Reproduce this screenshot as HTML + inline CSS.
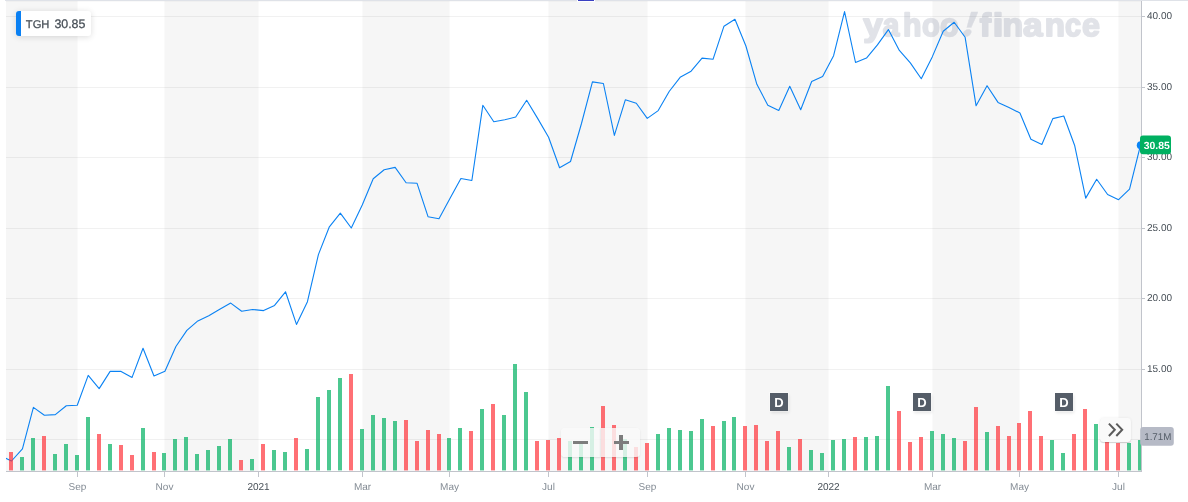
<!DOCTYPE html>
<html lang="en"><head><meta charset="utf-8"><title>TGH chart</title>
<style>
html,body{margin:0;padding:0;background:#fff;}
body{width:1188px;height:502px;position:relative;overflow:hidden;text-rendering:geometricPrecision;font-family:"Liberation Sans",Arial,Helvetica,sans-serif;}
#chart{position:absolute;left:0;top:0;display:block;will-change:transform;}
#ov{position:absolute;left:0;top:0;width:1188px;height:502px;will-change:transform;}
#chart text{font-family:"Liberation Sans",Arial,Helvetica,sans-serif;text-rendering:geometricPrecision;}
.yl{font-size:10px;fill:#464e56;}
.xl{font-size:10px;fill:#828a93;}
.xd{font-size:10px;fill:#464e56;}
.legend{position:absolute;left:16px;top:11px;width:75px;height:25px;box-sizing:border-box;background:#fff;border-left:5px solid #0a80f3;border-radius:3px;box-shadow:0 1px 6px rgba(0,0,0,.14);color:#464e56;white-space:nowrap;}
.legend .s{position:absolute;left:4.8px;top:6.7px;font-size:11.2px;line-height:14px;-webkit-text-stroke:0.25px #464e56;}
.legend .p{position:absolute;left:33.4px;top:6px;font-size:12.4px;line-height:15px;-webkit-text-stroke:0.25px #464e56;}
.dm{position:absolute;top:393px;width:18px;height:18px;background:#555d68;color:#fff;font-weight:bold;font-size:13px;line-height:19.4px;text-align:center;box-shadow:0 0 0 1px rgba(255,255,255,.3),1px 2px 3px rgba(0,0,0,.10);}
.zb{position:absolute;top:428px;height:29px;width:39.5px;background:rgba(250,250,250,.8);box-shadow:0 1px 2px rgba(0,0,0,.10);}
.zb i{position:absolute;background:#7d7d7d;}
.home{position:absolute;left:1100.3px;top:417.5px;width:30.8px;height:24.5px;border-radius:3.5px;background:#fafafa;box-shadow:0 1px 1px rgba(0,0,0,.16),0 0 3px rgba(0,0,0,.07);}
</style></head><body>
<svg id="chart" width="1188" height="502" viewBox="0 0 1188 502">
<defs><clipPath id="plot"><rect x="6" y="0" width="1135" height="471"/></clipPath></defs>
<rect width="1188" height="502" fill="#fff"/>
<rect x="6.00" y="1" width="71.50" height="470" fill="#f6f6f6"/>
<rect x="164.50" y="1" width="94.00" height="470" fill="#f6f6f6"/>
<rect x="362.50" y="1" width="87.00" height="470" fill="#f6f6f6"/>
<rect x="548.50" y="1" width="99.00" height="470" fill="#f6f6f6"/>
<rect x="745.50" y="1" width="83.00" height="470" fill="#f6f6f6"/>
<rect x="932.50" y="1" width="87.00" height="470" fill="#f6f6f6"/>
<rect x="1118.50" y="1" width="22.50" height="470" fill="#f6f6f6"/>
<rect x="5" y="0" width="1183" height="1" fill="#dfe2e8"/>
<rect x="6" y="1" width="1135" height="1" fill="#000" opacity="0.025"/>
<rect x="577" y="0" width="18" height="2" fill="#fff"/><rect x="578" y="0" width="16" height="1" fill="#3a40c2"/>
<rect x="6" y="16" width="1135" height="1" fill="#000" opacity="0.055"/>
<rect x="6" y="87" width="1135" height="1" fill="#000" opacity="0.055"/>
<rect x="6" y="157" width="1135" height="1" fill="#000" opacity="0.055"/>
<rect x="6" y="228" width="1135" height="1" fill="#000" opacity="0.055"/>
<rect x="6" y="298" width="1135" height="1" fill="#000" opacity="0.055"/>
<rect x="6" y="369" width="1135" height="1" fill="#000" opacity="0.055"/>
<rect x="6" y="439" width="1135" height="1" fill="#000" opacity="0.055"/>
<g font-family="'Liberation Sans',Arial,sans-serif" font-weight="bold" font-size="32.2" fill="#5a6482" stroke="#5a6482" stroke-width="1.9" stroke-linejoin="round" opacity="0.175"><text y="36.3"><tspan x="863.15" textLength="19.37" lengthAdjust="spacingAndGlyphs">y</tspan><tspan x="882.85" textLength="16.58" lengthAdjust="spacingAndGlyphs">a</tspan><tspan x="903.04" textLength="18.45" lengthAdjust="spacingAndGlyphs">h</tspan><tspan x="922.07" textLength="17.88" lengthAdjust="spacingAndGlyphs">o</tspan><tspan x="940.03" textLength="18.66" lengthAdjust="spacingAndGlyphs">o</tspan></text><text transform="translate(958.5,35.7) skewX(-19.6) scale(1.2,1)" style="font-family:'Noto Sans CJK SC','Liberation Sans',sans-serif;font-weight:900;font-size:31.4px" stroke-width="0.3">!</text><text y="36.3"><tspan x="979.81" textLength="11.20" lengthAdjust="spacingAndGlyphs">f</tspan><tspan x="992.67" textLength="10.56" lengthAdjust="spacingAndGlyphs">i</tspan><tspan x="1002.42" textLength="20.69" lengthAdjust="spacingAndGlyphs">n</tspan><tspan x="1023.05" textLength="19.52" lengthAdjust="spacingAndGlyphs">a</tspan><tspan x="1044.77" textLength="20.20" lengthAdjust="spacingAndGlyphs">n</tspan><tspan x="1065.09" textLength="16.02" lengthAdjust="spacingAndGlyphs">c</tspan><tspan x="1081.98" textLength="17.91" lengthAdjust="spacingAndGlyphs">e</tspan></text></g>
<g clip-path="url(#plot)"><polyline points="0.52,455.6 11.48,461.0 22.44,448.8 33.40,407.4 44.36,415.2 55.33,414.6 66.29,405.7 77.25,405.3 88.21,375.4 99.17,388.6 110.13,371.4 121.09,371.4 132.06,377.4 143.02,348.3 153.98,376.0 164.94,371.2 175.90,346.5 186.86,330.4 197.83,320.9 208.79,315.8 219.75,309.3 230.71,303.1 241.67,311.2 252.63,309.5 263.59,310.6 274.56,305.4 285.52,291.8 296.48,324.4 307.44,301.7 318.40,254.6 329.36,226.8 340.32,213.2 351.29,228.0 362.25,205.0 373.21,178.7 384.17,169.8 395.13,167.4 406.09,182.7 417.06,183.3 428.02,216.7 438.98,218.7 449.94,198.5 460.90,178.5 471.86,180.5 482.82,105.3 493.79,121.7 504.75,119.8 515.71,117.0 526.67,100.3 537.63,118.4 548.59,137.2 559.55,167.7 570.52,161.5 581.48,123.5 592.44,81.9 603.40,83.5 614.36,135.4 625.32,99.8 636.29,103.3 647.25,118.4 658.21,110.6 669.17,91.5 680.13,77.3 691.09,71.2 702.05,58.1 713.02,59.3 723.98,26.2 734.94,19.3 745.90,46.0 756.86,84.3 767.82,105.2 778.78,110.4 789.75,86.2 800.71,109.8 811.67,81.5 822.63,76.5 833.59,55.7 844.55,11.6 855.52,62.5 866.48,58.1 877.44,44.9 888.40,29.6 899.36,50.4 910.32,62.9 921.28,78.7 932.25,56.9 943.21,31.2 954.17,22.3 965.13,37.3 976.09,105.8 987.05,85.7 998.01,102.4 1008.98,107.4 1019.94,113.0 1030.90,139.3 1041.86,144.5 1052.82,118.6 1063.78,116.0 1074.75,145.8 1085.71,198.1 1096.67,179.3 1107.63,194.5 1118.59,199.7 1129.55,189.2 1140.51,145.2" fill="none" stroke="#0a82f3" stroke-width="1.1" stroke-linejoin="round"/></g>
<g clip-path="url(#plot)">
<rect x="9" y="452" width="4" height="18.4" fill="rgba(255,51,58,0.7)"/>
<rect x="20" y="457" width="4" height="13.4" fill="rgba(0,176,97,0.7)"/>
<rect x="31" y="438" width="4" height="32.4" fill="rgba(0,176,97,0.7)"/>
<rect x="42" y="436" width="4" height="34.4" fill="rgba(255,51,58,0.7)"/>
<rect x="53" y="454" width="4" height="16.4" fill="rgba(0,176,97,0.7)"/>
<rect x="64" y="444" width="4" height="26.4" fill="rgba(0,176,97,0.7)"/>
<rect x="75" y="455" width="4" height="15.4" fill="rgba(0,176,97,0.7)"/>
<rect x="86" y="417" width="4" height="53.4" fill="rgba(0,176,97,0.7)"/>
<rect x="97" y="434" width="4" height="36.4" fill="rgba(255,51,58,0.7)"/>
<rect x="108" y="444" width="4" height="26.4" fill="rgba(0,176,97,0.7)"/>
<rect x="119" y="445" width="4" height="25.4" fill="rgba(255,51,58,0.7)"/>
<rect x="130" y="455" width="4" height="15.4" fill="rgba(255,51,58,0.7)"/>
<rect x="141" y="428" width="4" height="42.4" fill="rgba(0,176,97,0.7)"/>
<rect x="152" y="452" width="4" height="18.4" fill="rgba(255,51,58,0.7)"/>
<rect x="162" y="453" width="4" height="17.4" fill="rgba(0,176,97,0.7)"/>
<rect x="173" y="439" width="4" height="31.4" fill="rgba(0,176,97,0.7)"/>
<rect x="184" y="437" width="4" height="33.4" fill="rgba(0,176,97,0.7)"/>
<rect x="195" y="454" width="4" height="16.4" fill="rgba(0,176,97,0.7)"/>
<rect x="206" y="450" width="4" height="20.4" fill="rgba(0,176,97,0.7)"/>
<rect x="217" y="446" width="4" height="24.4" fill="rgba(0,176,97,0.7)"/>
<rect x="228" y="439" width="4" height="31.4" fill="rgba(0,176,97,0.7)"/>
<rect x="239" y="460" width="4" height="10.4" fill="rgba(255,51,58,0.7)"/>
<rect x="250" y="459" width="4" height="11.4" fill="rgba(0,176,97,0.7)"/>
<rect x="261" y="444" width="4" height="26.4" fill="rgba(255,51,58,0.7)"/>
<rect x="272" y="450" width="4" height="20.4" fill="rgba(0,176,97,0.7)"/>
<rect x="283" y="452" width="4" height="18.4" fill="rgba(0,176,97,0.7)"/>
<rect x="294" y="438" width="4" height="32.4" fill="rgba(255,51,58,0.7)"/>
<rect x="305" y="449" width="4" height="21.4" fill="rgba(0,176,97,0.7)"/>
<rect x="316" y="397" width="4" height="73.4" fill="rgba(0,176,97,0.7)"/>
<rect x="327" y="390" width="4" height="80.4" fill="rgba(0,176,97,0.7)"/>
<rect x="338" y="378" width="4" height="92.4" fill="rgba(0,176,97,0.7)"/>
<rect x="349" y="374" width="4" height="96.4" fill="rgba(255,51,58,0.7)"/>
<rect x="360" y="429" width="4" height="41.4" fill="rgba(0,176,97,0.7)"/>
<rect x="371" y="415" width="4" height="55.4" fill="rgba(0,176,97,0.7)"/>
<rect x="382" y="418" width="4" height="52.4" fill="rgba(0,176,97,0.7)"/>
<rect x="393" y="421" width="4" height="49.4" fill="rgba(0,176,97,0.7)"/>
<rect x="404" y="420" width="4" height="50.4" fill="rgba(255,51,58,0.7)"/>
<rect x="415" y="441" width="4" height="29.4" fill="rgba(255,51,58,0.7)"/>
<rect x="426" y="430" width="4" height="40.4" fill="rgba(255,51,58,0.7)"/>
<rect x="437" y="434" width="4" height="36.4" fill="rgba(255,51,58,0.7)"/>
<rect x="447" y="438" width="4" height="32.4" fill="rgba(0,176,97,0.7)"/>
<rect x="458" y="428" width="4" height="42.4" fill="rgba(0,176,97,0.7)"/>
<rect x="469" y="431" width="4" height="39.4" fill="rgba(255,51,58,0.7)"/>
<rect x="480" y="409" width="4" height="61.4" fill="rgba(0,176,97,0.7)"/>
<rect x="491" y="404" width="4" height="66.4" fill="rgba(255,51,58,0.7)"/>
<rect x="502" y="415" width="4" height="55.4" fill="rgba(0,176,97,0.7)"/>
<rect x="513" y="364" width="4" height="106.4" fill="rgba(0,176,97,0.7)"/>
<rect x="524" y="392" width="4" height="78.4" fill="rgba(0,176,97,0.7)"/>
<rect x="535" y="441" width="4" height="29.4" fill="rgba(255,51,58,0.7)"/>
<rect x="546" y="440" width="4" height="30.4" fill="rgba(255,51,58,0.7)"/>
<rect x="557" y="438" width="4" height="32.4" fill="rgba(255,51,58,0.7)"/>
<rect x="568" y="441" width="4" height="29.4" fill="rgba(0,176,97,0.7)"/>
<rect x="579" y="444" width="4" height="26.4" fill="rgba(0,176,97,0.7)"/>
<rect x="590" y="427" width="4" height="43.4" fill="rgba(0,176,97,0.7)"/>
<rect x="601" y="406" width="4" height="64.4" fill="rgba(255,51,58,0.7)"/>
<rect x="612" y="425" width="4" height="45.4" fill="rgba(255,51,58,0.7)"/>
<rect x="623" y="439" width="4" height="31.4" fill="rgba(0,176,97,0.7)"/>
<rect x="634" y="447" width="4" height="23.4" fill="rgba(255,51,58,0.7)"/>
<rect x="645" y="443" width="4" height="27.4" fill="rgba(255,51,58,0.7)"/>
<rect x="656" y="434" width="4" height="36.4" fill="rgba(0,176,97,0.7)"/>
<rect x="667" y="428" width="4" height="42.4" fill="rgba(0,176,97,0.7)"/>
<rect x="678" y="430" width="4" height="40.4" fill="rgba(0,176,97,0.7)"/>
<rect x="689" y="431" width="4" height="39.4" fill="rgba(0,176,97,0.7)"/>
<rect x="700" y="419" width="4" height="51.4" fill="rgba(0,176,97,0.7)"/>
<rect x="711" y="426" width="4" height="44.4" fill="rgba(255,51,58,0.7)"/>
<rect x="722" y="421" width="4" height="49.4" fill="rgba(0,176,97,0.7)"/>
<rect x="732" y="417" width="4" height="53.4" fill="rgba(0,176,97,0.7)"/>
<rect x="743" y="426" width="4" height="44.4" fill="rgba(255,51,58,0.7)"/>
<rect x="754" y="425" width="4" height="45.4" fill="rgba(255,51,58,0.7)"/>
<rect x="765" y="441" width="4" height="29.4" fill="rgba(255,51,58,0.7)"/>
<rect x="776" y="431" width="4" height="39.4" fill="rgba(255,51,58,0.7)"/>
<rect x="787" y="447" width="4" height="23.4" fill="rgba(0,176,97,0.7)"/>
<rect x="798" y="439" width="4" height="31.4" fill="rgba(255,51,58,0.7)"/>
<rect x="809" y="450" width="4" height="20.4" fill="rgba(0,176,97,0.7)"/>
<rect x="820" y="453" width="4" height="17.4" fill="rgba(0,176,97,0.7)"/>
<rect x="831" y="440" width="4" height="30.4" fill="rgba(0,176,97,0.7)"/>
<rect x="842" y="439" width="4" height="31.4" fill="rgba(0,176,97,0.7)"/>
<rect x="853" y="437" width="4" height="33.4" fill="rgba(255,51,58,0.7)"/>
<rect x="864" y="437" width="4" height="33.4" fill="rgba(0,176,97,0.7)"/>
<rect x="875" y="436" width="4" height="34.4" fill="rgba(0,176,97,0.7)"/>
<rect x="886" y="386" width="4" height="84.4" fill="rgba(0,176,97,0.7)"/>
<rect x="897" y="411" width="4" height="59.4" fill="rgba(255,51,58,0.7)"/>
<rect x="908" y="442" width="4" height="28.4" fill="rgba(255,51,58,0.7)"/>
<rect x="919" y="437" width="4" height="33.4" fill="rgba(255,51,58,0.7)"/>
<rect x="930" y="431" width="4" height="39.4" fill="rgba(0,176,97,0.7)"/>
<rect x="941" y="434" width="4" height="36.4" fill="rgba(0,176,97,0.7)"/>
<rect x="952" y="438" width="4" height="32.4" fill="rgba(0,176,97,0.7)"/>
<rect x="963" y="441" width="4" height="29.4" fill="rgba(255,51,58,0.7)"/>
<rect x="974" y="407" width="4" height="63.4" fill="rgba(255,51,58,0.7)"/>
<rect x="985" y="432" width="4" height="38.4" fill="rgba(0,176,97,0.7)"/>
<rect x="996" y="426" width="4" height="44.4" fill="rgba(255,51,58,0.7)"/>
<rect x="1007" y="436" width="4" height="34.4" fill="rgba(255,51,58,0.7)"/>
<rect x="1017" y="423" width="4" height="47.4" fill="rgba(255,51,58,0.7)"/>
<rect x="1028" y="411" width="4" height="59.4" fill="rgba(255,51,58,0.7)"/>
<rect x="1039" y="436" width="4" height="34.4" fill="rgba(255,51,58,0.7)"/>
<rect x="1050" y="440" width="4" height="30.4" fill="rgba(0,176,97,0.7)"/>
<rect x="1061" y="453" width="4" height="17.4" fill="rgba(0,176,97,0.7)"/>
<rect x="1072" y="434" width="4" height="36.4" fill="rgba(255,51,58,0.7)"/>
<rect x="1083" y="409" width="4" height="61.4" fill="rgba(255,51,58,0.7)"/>
<rect x="1094" y="424" width="4" height="46.4" fill="rgba(0,176,97,0.7)"/>
<rect x="1105" y="440" width="4" height="30.4" fill="rgba(255,51,58,0.7)"/>
<rect x="1116" y="443" width="4" height="27.4" fill="rgba(255,51,58,0.7)"/>
<rect x="1127" y="443" width="4" height="27.4" fill="rgba(0,176,97,0.7)"/>
<rect x="1138" y="440" width="4" height="30.4" fill="rgba(0,176,97,0.7)"/>
</g>
<rect x="1141" y="1" width="1" height="471" fill="#c1c4cb"/>
<rect x="6" y="471" width="1136" height="1" fill="#c1c4cb"/>
<rect x="1142" y="16" width="3" height="1" fill="#c1c4cb"/>
<text x="1147" y="19" class="yl">40.00</text>
<rect x="1142" y="87" width="3" height="1" fill="#c1c4cb"/>
<text x="1147" y="90" class="yl">35.00</text>
<rect x="1142" y="157" width="3" height="1" fill="#c1c4cb"/>
<text x="1147" y="160" class="yl">30.00</text>
<rect x="1142" y="228" width="3" height="1" fill="#c1c4cb"/>
<text x="1147" y="231" class="yl">25.00</text>
<rect x="1142" y="298" width="3" height="1" fill="#c1c4cb"/>
<text x="1147" y="301" class="yl">20.00</text>
<rect x="1142" y="369" width="3" height="1" fill="#c1c4cb"/>
<text x="1147" y="372" class="yl">15.00</text>
<rect x="77" y="472" width="1" height="5" fill="#c1c4cb"/>
<text x="77.5" y="490" text-anchor="middle" class="xl">Sep</text>
<rect x="164" y="472" width="1" height="5" fill="#c1c4cb"/>
<text x="164.5" y="490" text-anchor="middle" class="xl">Nov</text>
<rect x="258" y="472" width="1" height="5" fill="#c1c4cb"/>
<text x="258.5" y="490" text-anchor="middle" class="xd">2021</text>
<rect x="362" y="472" width="1" height="5" fill="#c1c4cb"/>
<text x="362.5" y="490" text-anchor="middle" class="xl">Mar</text>
<rect x="449" y="472" width="1" height="5" fill="#c1c4cb"/>
<text x="449.5" y="490" text-anchor="middle" class="xl">May</text>
<rect x="548" y="472" width="1" height="5" fill="#c1c4cb"/>
<text x="548.5" y="490" text-anchor="middle" class="xl">Jul</text>
<rect x="647" y="472" width="1" height="5" fill="#c1c4cb"/>
<text x="647.5" y="490" text-anchor="middle" class="xl">Sep</text>
<rect x="745" y="472" width="1" height="5" fill="#c1c4cb"/>
<text x="745.5" y="490" text-anchor="middle" class="xl">Nov</text>
<rect x="828" y="472" width="1" height="5" fill="#c1c4cb"/>
<text x="828.5" y="490" text-anchor="middle" class="xd">2022</text>
<rect x="932" y="472" width="1" height="5" fill="#c1c4cb"/>
<text x="932.5" y="490" text-anchor="middle" class="xl">Mar</text>
<rect x="1019" y="472" width="1" height="5" fill="#c1c4cb"/>
<text x="1019.5" y="490" text-anchor="middle" class="xl">May</text>
<rect x="1118" y="472" width="1" height="5" fill="#c1c4cb"/>
<text x="1118.5" y="490" text-anchor="middle" class="xl">Jul</text>
<circle cx="1140.8" cy="145.2" r="4" fill="#0a84f4"/>
<rect x="1140" y="135.6" width="31" height="18.7" rx="3" fill="#00b061"/>
<text x="1143.7" y="149" style="font-size:10.4px;font-weight:bold;fill:#fff">30.85</text>
<rect x="1140.2" y="427" width="33.6" height="18.8" rx="3" fill="#b6bac6"/>
<text x="1144.2" y="439.8" style="font-size:9.8px;fill:#555d68">1.71M</text>
</svg>
<div id="ov">
<div class="legend"><span class="s">TGH</span><span class="p">30.85</span></div>
<div class="dm" style="left:770px">D</div>
<div class="dm" style="left:913px">D</div>
<div class="dm" style="left:1055px">D</div>
<div class="zb" style="left:561px;border-radius:4px 0 0 4px"><i style="left:12.1px;top:12.8px;width:15px;height:3.5px"></i></div>
<div class="zb" style="left:600.5px;border-radius:0 4px 4px 0;box-shadow:0 1px 2px rgba(0,0,0,.10),-1px 0 2px rgba(0,0,0,.05)"><i style="left:13.1px;top:12.8px;width:15px;height:3.5px"></i><i style="left:18.3px;top:7.1px;width:3.9px;height:14.9px"></i></div>
<div class="home"><svg width="30" height="25" viewBox="0 0 30 25" style="position:absolute;left:0;top:0"><path d="M8.9 5.6 L14.8 11.8 L8.9 18 M16.3 5.6 L22.2 11.8 L16.3 18" fill="none" stroke="#5c5c5c" stroke-width="2"/></svg></div>
</div>
</body></html>
